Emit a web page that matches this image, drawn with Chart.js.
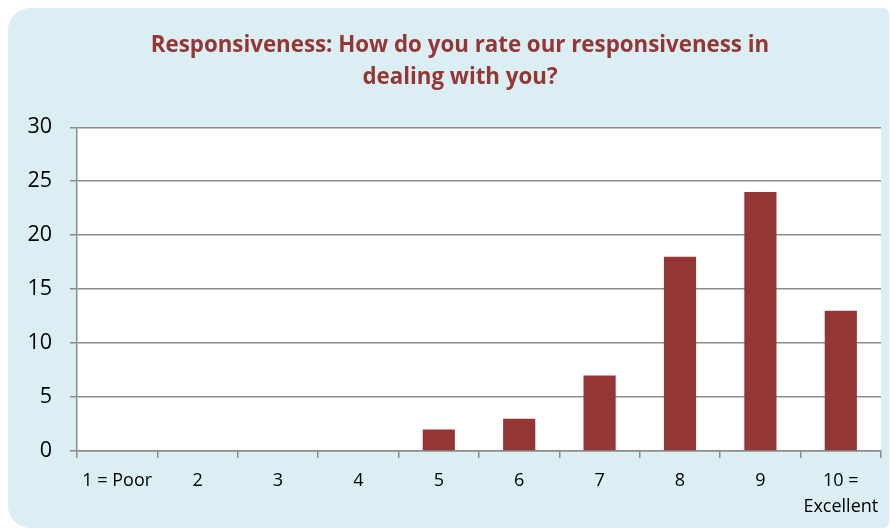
<!DOCTYPE html>
<html>
<head>
<meta charset="utf-8">
<script src="https://cdn.jsdelivr.net/npm/chart.js@4/dist/chart.umd.min.js"></script>
<style>
  html, body { margin: 0; padding: 0; background: #ffffff; }
  #wrap { position: relative; width: 890px; height: 529px; overflow: hidden; }
  #panel { position: absolute; left: 8px; top: 8px; width: 881px; height: 520px;
           background: #DAEEF3; border-radius: 22px 6px 6px 22px; }
  #c { position: absolute; left: 0; top: 0; }
</style>
</head>
<body>
<div id="wrap">
  <div id="panel"></div>
  <canvas id="c" width="890" height="529"></canvas>
</div>
<script>
const categories = ["1 = Poor", "2", "3", "4", "5", "6", "7", "8", "9", ["10 =", "Excellent"]];
const ratingCounts = [0, 0, 0, 0, 2, 3, 7, 18, 24, 13];
const yTicks = [0, 5, 10, 15, 20, 25, 30];
const titleLines = ["Responsiveness: How do you rate our responsiveness in", "dealing with you?"];

const plotBg = {
  id: 'plotBg',
  afterLayout(chart) {
    // centre the title block around x = 460 like the reference
    if (chart.titleBlock) { chart.titleBlock.left = 30; chart.titleBlock.right = 890; }
  },
  beforeDraw(chart) {
    const a = chart.chartArea, ctx = chart.ctx;
    ctx.save();
    ctx.fillStyle = '#ffffff';
    ctx.fillRect(a.left, a.top, a.right - a.left, a.bottom - a.top);
    ctx.restore();
  }
};

new Chart(document.getElementById('c'), {
  type: 'bar',
  data: {
    labels: categories,
    datasets: [{
      data: ratingCounts,
      backgroundColor: '#943634',
      borderWidth: 0,
      categoryPercentage: 1.0,
      barPercentage: 0.4
    }]
  },
  options: {
    responsive: false,
    animation: false,
    layout: { padding: { left: 0, right: 9, top: 0, bottom: 0 } },
    plugins: {
      legend: { display: false },
      tooltip: { enabled: false },
      title: {
        display: true,
        text: titleLines,
        color: '#943634',
        font: { family: 'Open Sans', size: 22.3, weight: 'bold', lineHeight: 1.43 },
        padding: { top: 29.5, bottom: 34 }
      }
    },
    scales: {
      x: {
        offset: true,
        grid: { display: true, drawOnChartArea: false, offset: true, tickLength: 7, color: '#8c8c8c', lineWidth: 1.5 },
        border: { display: true, color: '#8c8c8c', width: 1.5 },
        ticks: { color: '#000000', padding: 10, maxRotation: 0, autoSkip: false,
                 font: { family: 'Open Sans', size: 18, lineHeight: 1.45 } },
        afterFit(scale) { scale.height = 78; }
      },
      y: {
        min: 0, max: 30,
        afterBuildTicks(scale) { scale.ticks = yTicks.map(v => ({ value: v })); },
        grid: { display: true, drawOnChartArea: true, tickLength: 7, color: '#8c8c8c', lineWidth: 1.5 },
        border: { display: true, color: '#8c8c8c', width: 1.5 },
        ticks: { color: '#000000', padding: 18, font: { family: 'Open Sans', size: 21.5 } },
        afterFit(scale) { scale.width = 77; }
      }
    }
  },
  plugins: [plotBg]
});
</script>
</body>
</html>
